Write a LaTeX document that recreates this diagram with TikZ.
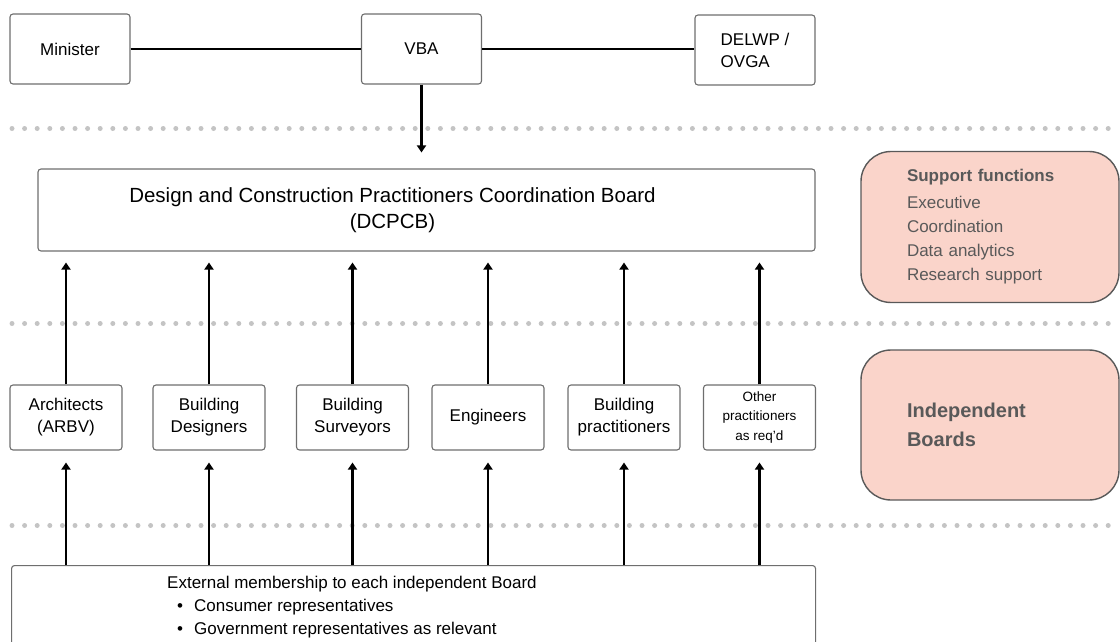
\documentclass[tikz,border=0pt]{standalone}
\usepackage{fontspec}
\setmainfont{Liberation Sans}
\usetikzlibrary{arrows.meta,positioning}
\usepackage{xcolor}
\definecolor{boxgrey}{HTML}{6E6E6E}
\definecolor{dotgrey}{HTML}{C4C4C4}
\definecolor{peach}{HTML}{FAD4CA}
\definecolor{peachtext}{HTML}{595959}

\begin{document}
\begin{tikzpicture}[x=1pt, y=-1pt]

  % Define styles for boxes and links
  \tikzstyle{entity} = [rectangle, draw=boxgrey, line width=1.1pt, rounded corners=3pt, fill=white, align=center, inner sep=0pt, font=\fontsize{17}{22}\selectfont]
  \tikzstyle{board} = [entity, minimum width=112pt, minimum height=65pt]
  \tikzstyle{support} = [rectangle, draw=peachtext, line width=1.4pt, rounded corners=30pt, fill=peach, text=peachtext, minimum width=258pt, minimum height=151pt, text width=166pt, align=left]
  \tikzstyle{link} = [line width=2.4pt]
  \tikzstyle{arrow} = [link, -{Triangle[width=9pt,length=7pt]}]
  \tikzstyle{separator} = [dotgrey, line width=5pt, line cap=round, dash pattern=on 0pt off 12.6pt]

  \useasboundingbox (0,0) rectangle (1120,642);

  % Separators
  \draw[separator] (12,128.5) -- (1120,128.5);
  \draw[separator] (12,323.5) -- (1120,323.5);
  \draw[separator] (12,525.5) -- (1120,525.5);

  % Top level
  \node[entity, minimum width=120pt, minimum height=70pt] (minister) at (70,49) {Minister};
  \node[entity, minimum width=120pt, minimum height=70pt] (vba) at (421.5,49) {VBA};
  \node[entity, minimum width=120pt, minimum height=70pt, align=left] (delwp) at (755,50) {DELWP /\\OVGA};

  \draw[link] (minister) -- (vba);
  \draw[link] (vba) -- (delwp.west |- vba);

  % Coordination board
  \node[entity, minimum width=777pt, minimum height=82pt] (dcpcb) at (426.5,210) {};
  \node[align=center, inner sep=0pt, font=\fontsize{20.5}{26}\selectfont] (dcpcbtext) at (392.5,210) {Design and Construction Practitioners Coordination Board\\(DCPCB)};
  \draw[arrow] (vba.south) -- ([yshift=16pt]vba.south |- dcpcb.north);

  % Side notes
  \node[support, font=\fontsize{17}{24}\selectfont] (supportfn) at (990,227) {\textbf{Support functions}\\[3pt]Executive\\Coordination\\Data analytics\\Research support};
  \node[support, minimum height=150pt, font=\bfseries\fontsize{20}{29}\selectfont] (indep) at (990,425) {Independent\\Boards};

  % Independent boards
  \node[board] (arch) at (66,417.5) {Architects\\(ARBV)};
  \node[board] (designers) at (209,417.5) {Building\\Designers};
  \node[board] (surveyors) at (352.5,417.5) {Building\\Surveyors};
  \node[board] (engineers) at (488,417.5) {Engineers};
  \node[board] (bpract) at (624,417.5) {Building\\practitioners};
  \node[board, font=\fontsize{13.5}{19.5}\selectfont] (other) at (759.5,417.5) {Other\\practitioners\\as req'd};

  % External membership
  \node[entity, minimum width=804pt, minimum height=100pt, anchor=north west] (ext) at (11,565) {};
  \node[anchor=north west, inner sep=0pt, align=left, font=\fontsize{17}{23}\selectfont] (extlabel) at (167,576) {External membership to each independent Board\\
    \hspace*{10pt}\textbullet\hspace{11pt}Consumer representatives\\
    \hspace*{10pt}\textbullet\hspace{11pt}Government representatives as relevant};

  % Board links
  \foreach \b in {arch,designers,surveyors,engineers,bpract,other} {
    \draw[arrow] (\b.north) -- ([yshift=-11pt]\b.north |- dcpcb.south);
    \draw[arrow] (\b.south |- ext.north) -- ([yshift=-12pt]\b.south);
  }

\end{tikzpicture}
\end{document}
